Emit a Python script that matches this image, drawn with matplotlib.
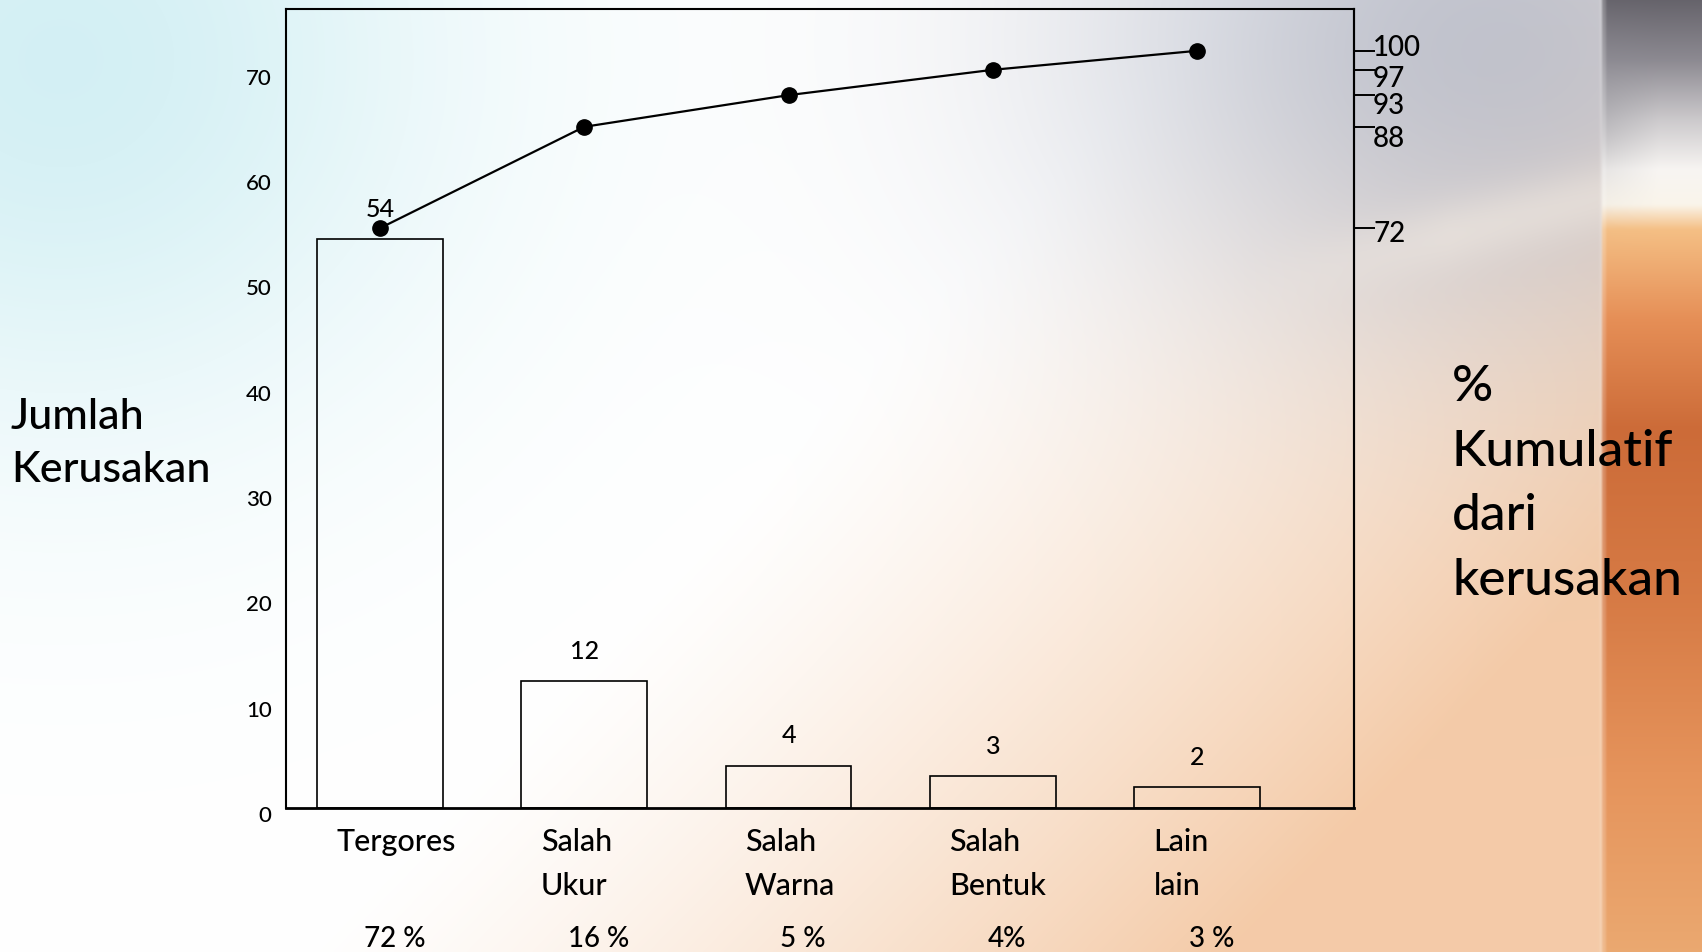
import numpy as np
import matplotlib
matplotlib.use("Agg")
import matplotlib.pyplot as plt
from matplotlib.transforms import ScaledTranslation, blended_transform_factory

plt.rcParams['font.family'] = ['Lato', 'DejaVu Sans']
plt.rcParams['font.weight'] = 'medium'

# ---- data ----
categories = ["Tergores", "Salah\nUkur", "Salah\nWarna", "Salah\nBentuk", "Lain\nlain"]
counts = [54, 12, 4, 3, 2]
share_labels = ["72 %", "16 %", "5 %", "4%", "3 %"]
cumulative_pct = [72, 88, 93, 97, 100]
count_ticks = [0, 10, 20, 30, 40, 50, 60, 70]

W_PX, H_PX = 1702, 953


def make_background(h=477, w=851):
    yy, xx = np.mgrid[0:h, 0:w]
    X = xx / (w - 1) * W_PX
    Y = yy / (h - 1) * H_PX
    img = np.ones((h, w, 3))

    def blend(img, weight, colour):
        weight = np.clip(weight, 0, 1)[..., None]
        return img * (1 - weight) + np.asarray(colour) * weight

    # cool cyan haze in the upper-left corner
    img = blend(img, 0.85 * np.exp(-(((X - 60) / 400) ** 2 + ((Y - 60) / 380) ** 2)),
                (0.80, 0.93, 0.95))
    # warm peach wash spreading from the lower right
    diag = (X / W_PX) * 1.0 + (Y / H_PX) * 0.55
    img = blend(img, np.clip((diag - 0.72) / 0.55, 0, 1) ** 1.3 * 0.85, (0.95, 0.76, 0.60))
    # grey-blue cloud along the top right
    img = blend(img, 0.75 * np.exp(-(((X - 1480) / 400) ** 2 + ((Y - 40) / 300) ** 2)),
                (0.68, 0.70, 0.76))
    # pale streak sweeping across the right side
    streak = np.exp(-((Y - (260 - (X - 1350) * 0.25)) / 35) ** 2) * np.clip((X - 1250) / 200, 0, 1)
    img = blend(img, 0.45 * streak, (0.97, 0.94, 0.90))

    # coloured strip along the right edge
    stops_y = [0, 60, 120, 170, 205, 230, 320, 430, 600, 780, 953]
    stops_c = [(0.40, 0.39, 0.42), (0.55, 0.54, 0.57), (0.80, 0.79, 0.80),
               (0.97, 0.96, 0.95), (0.98, 0.96, 0.92), (0.96, 0.75, 0.52),
               (0.90, 0.56, 0.34), (0.80, 0.42, 0.22), (0.84, 0.48, 0.27),
               (0.90, 0.58, 0.36), (0.92, 0.66, 0.44)]
    col = np.stack([np.interp(Y, stops_y, [c[k] for c in stops_c]) for k in range(3)], axis=-1)
    # left part of the strip stays greyer near the top
    edge = np.clip((1660 - X) / 60, 0, 1) * np.exp(-((Y - 110) / 70) ** 2)
    col = col * (1 - 0.35 * edge[..., None]) + np.array([0.55, 0.55, 0.58]) * 0.35 * edge[..., None]
    strip = X >= 1603
    img[strip] = col[strip]
    seam = np.abs(X - 1604) < 3
    img[seam] = img[seam] * 0.8 + 0.2
    return np.clip(img, 0, 1)


fig = plt.figure(figsize=(W_PX / 100, H_PX / 100), dpi=100)

bg = fig.add_axes([0, 0, 1, 1])
bg.set_axis_off()
bg.imshow(make_background(), extent=[0, W_PX, H_PX, 0], aspect='auto', interpolation='bicubic')
bg.set_xlim(0, W_PX)
bg.set_ylim(H_PX, 0)

# ---- main axes: counts per defect type ----
left, right, top, bottom = 285.5, 1353.6, 10.0, 808.7
ax = fig.add_axes([left / W_PX, 1 - bottom / H_PX, (right - left) / W_PX, (bottom - top) / H_PX])
ax.patch.set_alpha(0)

x = np.arange(len(counts))
ax.bar(x, counts, width=0.616, fill=False, edgecolor='black', linewidth=1.2)
ax.set_xlim(-0.4626, 4.766)
ax.set_ylim(0, 75.8)
ax.set_xticks([])
ax.set_yticks(count_ticks)
ax.tick_params(axis='y', length=0, pad=10, labelsize=16)
shift = ScaledTranslation(0, -0.054, fig.dpi_scale_trans)
for lab in ax.get_yticklabels():
    lab.set_transform(lab.get_transform() + shift)
for side, sp in ax.spines.items():
    sp.set_color('black')
    sp.set_linewidth(2.0 if side == 'bottom' else 1.5)

for xi, c in zip(x, counts):
    ax.annotate(str(c), (xi, c), xytext=(0, 22), textcoords='offset points',
                ha='center', va='center', fontsize=18, color='black')

# category names and their shares below the axis
trans = blended_transform_factory(ax.transData, fig.transFigure)
for xi, cat, share in zip(x, categories, share_labels):
    ax.text(xi - 0.213, 1 - 828 / H_PX, cat, transform=trans, ha='left', va='top',
            fontsize=22, linespacing=1.7, color='black', clip_on=False)
    ax.text(xi + 0.07, 6 / H_PX, share, transform=trans, ha='center', va='baseline',
            fontsize=20, color='black', clip_on=False)

# ---- cumulative percentage line ----
ax2 = ax.twinx()
ax2.set_ylim(-19.5, 106.6)
ax2.plot(x, cumulative_pct, '-o', color='black', linewidth=1.6, markersize=11)
ax2.set_yticks(cumulative_pct)
ax2.tick_params(axis='y', direction='out', length=15, width=1.4, pad=-1, labelsize=20)
# spread the closely packed labels at the top of the scale (pixels, positive = up)
nudge_px = {100: 10, 97: -2, 93: -3, 88: -5, 72: 2}
for val, lab in zip(cumulative_pct, ax2.get_yticklabels()):
    dy = (nudge_px.get(val, 0) - 4) / 100
    lab.set_transform(lab.get_transform() + ScaledTranslation(0, dy, fig.dpi_scale_trans))
for side, sp in ax2.spines.items():
    sp.set_visible(side == 'right')
    sp.set_linewidth(1.5)

fig.text(11 / W_PX, 1 - 443.5 / H_PX, "Jumlah\nKerusakan", ha='left', va='center',
         fontsize=31, linespacing=1.5, color='black')
fig.text(1452 / W_PX, 1 - 484 / H_PX, "%\nKumulatif\ndari\nkerusakan", ha='left',
         va='center', fontsize=37, linespacing=1.5, color='black')

fig.savefig("out.png", dpi=100)
